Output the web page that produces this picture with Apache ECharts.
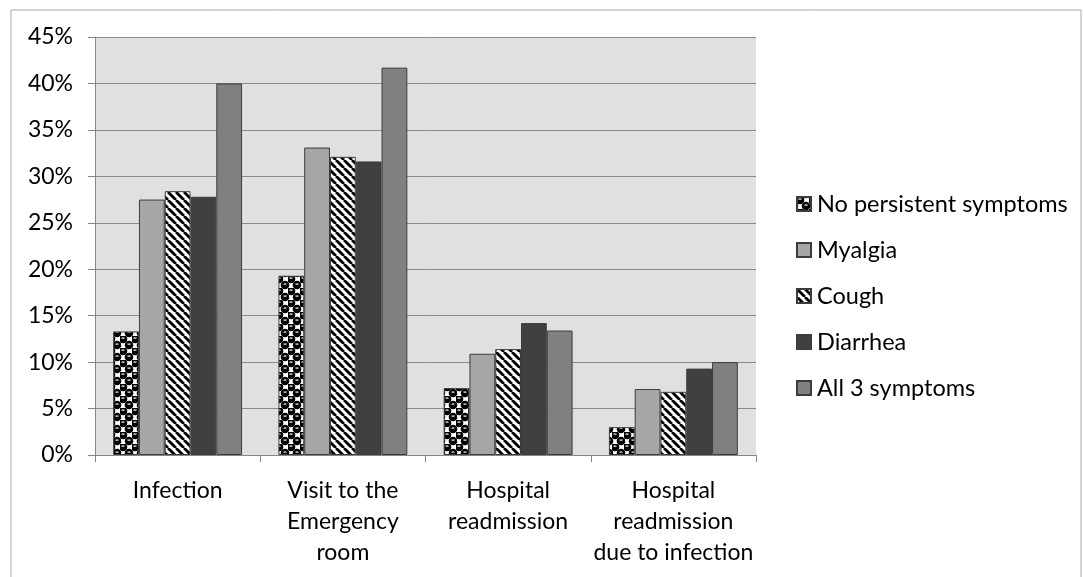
<!DOCTYPE html>
<html>
<head>
<meta charset="utf-8">
<script src="https://cdn.jsdelivr.net/npm/echarts@6/dist/echarts.min.js"></script>
<style>html,body{margin:0;padding:0;background:#fff;}#c{width:1083px;height:577px;}</style>
</head>
<body>
<div id="c"></div>
<script>
var categories = ['Infection', 'Visit to the\nEmergency\nroom', 'Hospital\nreadmission', 'Hospital\nreadmission\ndue to infection'];
var seriesNames = ['No persistent symptoms', 'Myalgia', 'Cough', 'Diarrhea', 'All 3 symptoms'];
var noPersistent = [13.3, 19.3, 7.2, 3.0];
var myalgia = [27.5, 33.1, 10.9, 7.1];
var cough = [28.4, 32.1, 11.4, 6.8];
var diarrhea = [27.8, 31.6, 14.2, 9.3];
var all3 = [40.0, 41.7, 13.4, 10.0];
var yTicks = [0, 5, 10, 15, 20, 25, 30, 35, 40, 45];

function spherePattern() {
  var c = document.createElement('canvas');
  c.width = 12; c.height = 12;
  var g = c.getContext('2d');
  g.fillStyle = '#fff'; g.fillRect(0, 0, 12, 12);
  g.fillStyle = '#000';
  [[3, 3], [9, 9], [9, -3], [-3, 9], [15, 9], [9, 15], [15, -3], [-3, 15]].forEach(function (p) {
    g.beginPath(); g.arc(p[0], p[1], 4.3, 0, Math.PI * 2); g.fill();
  });
  g.fillStyle = '#fff';
  g.fillRect(1.5, 1.5, 3, 1.2);
  g.fillRect(7.5, 7.5, 3, 1.2);
  return c;
}
function stripePattern() {
  var c = document.createElement('canvas');
  c.width = 8; c.height = 8;
  var g = c.getContext('2d');
  g.fillStyle = '#fff'; g.fillRect(0, 0, 8, 8);
  g.strokeStyle = '#000'; g.lineWidth = 2.8;
  for (var k = -8; k <= 16; k += 8) {
    g.beginPath(); g.moveTo(k, 0); g.lineTo(k + 8, 8); g.stroke();
  }
  return c;
}

var fills = [
  { image: spherePattern(), repeat: 'repeat' },
  '#a6a6a6',
  { image: stripePattern(), repeat: 'repeat' },
  '#404040',
  '#808080'
];
var values = [noPersistent, myalgia, cough, diarrhea, all3];
var font = 'Lato, "Open Sans", sans-serif';

var chart = echarts.init(document.getElementById('c'));
chart.setOption({
  animation: false,
  backgroundColor: '#fff',
  graphic: [{
    type: 'rect', shape: { x: 11, y: 10, width: 1070, height: 600 },
    style: { fill: 'none', stroke: '#a6a6a6', lineWidth: 1 }, silent: true, z: -1
  }],
  grid: { left: 95, right: 327, top: 37, bottom: 122, show: true, backgroundColor: '#e0e0e0', borderWidth: 0 },
  legend: {
    orient: 'vertical', left: 791, top: 187,
    itemWidth: 14, itemHeight: 14, itemGap: 22, icon: 'rect',
    textStyle: { fontFamily: font, fontSize: 23.5, color: '#000', lineHeight: 24, padding: [0, 0, 0, 1] },
    data: seriesNames
  },
  xAxis: {
    type: 'category', data: categories,
    axisLine: { lineStyle: { color: '#868686' } },
    axisTick: { show: true, length: 7, lineStyle: { color: '#868686' } },
    axisLabel: { fontFamily: font, fontSize: 23, color: '#000', lineHeight: 31, margin: 20, interval: 0 }
  },
  yAxis: {
    type: 'value', min: 0, max: 45, interval: 5,
    axisLine: { show: true, lineStyle: { color: '#868686' } },
    axisTick: { show: true, length: 7, lineStyle: { color: '#868686' } },
    splitLine: { lineStyle: { color: '#8a8a8a' } },
    axisLabel: { fontFamily: font, fontSize: 23, color: '#000', margin: 22,
      formatter: function (v) { return yTicks.indexOf(v) >= 0 ? v + '%' : ''; } }
  },
  series: seriesNames.map(function (n, i) {
    return {
      name: n, type: 'bar', data: values[i],
      barGap: '0%', barCategoryGap: '22%',
      itemStyle: { color: fills[i], borderColor: '#3c3c3c', borderWidth: 1 }
    };
  })
});
</script>
</body>
</html>
